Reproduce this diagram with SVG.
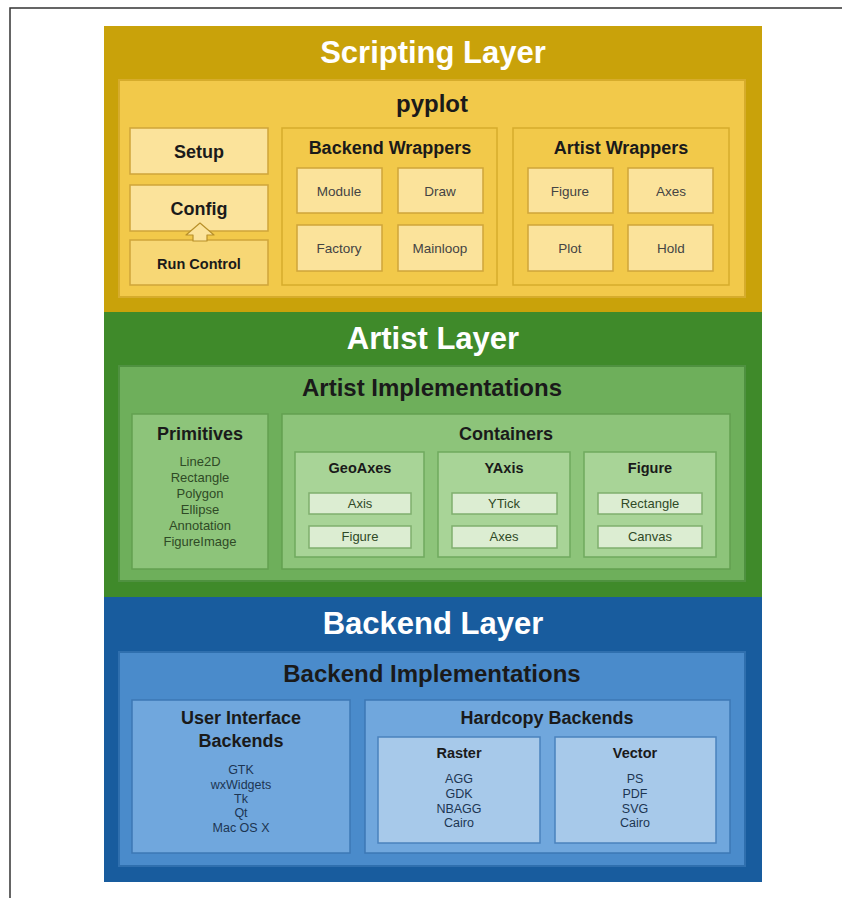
<svg xmlns="http://www.w3.org/2000/svg" width="842" height="898" viewBox="0 0 842 898">
<style>
text{font-family:"Liberation Sans",Arial,sans-serif;text-anchor:middle;}
.lt{font-size:31px;font-weight:bold;fill:#fff;}
.pt{font-size:24px;font-weight:bold;fill:#1a1a1a;}
.st{font-size:18px;font-weight:bold;fill:#1a1a1a;}
.sm{font-size:14.5px;font-weight:bold;fill:#1a1a1a;}
.it{font-size:13.5px;fill:#444;}
.ig{font-size:13px;fill:#2f4a26;}
.ib{font-size:12.5px;fill:#1c3552;}
.y0{fill:#C9A20A;}
.y1{fill:#F2C94A;stroke:#D6AC2C;stroke-width:2;}
.y2{fill:#FBE39B;stroke:#CFA53A;stroke-width:1.5;}
.y3{fill:#F7D775;stroke:#CFA53A;stroke-width:1.5;}
.g0{fill:#3F8A2A;}
.g1{fill:#6EAF5B;stroke:#4F9140;stroke-width:2;}
.g2{fill:#8DC47A;stroke:#63A050;stroke-width:1.5;}
.g3{fill:#A8D497;stroke:#6FA95E;stroke-width:1.5;}
.g4{fill:#DCEDD2;stroke:#7FAE6E;stroke-width:1.5;}
.b0{fill:#185C9E;}
.b1{fill:#4A8BCB;stroke:#2F6FAE;stroke-width:2;}
.b2{fill:#70A7DD;stroke:#3D78B5;stroke-width:1.5;}
.b3{fill:#A7C9EA;stroke:#4A82BD;stroke-width:1.5;}
</style>
<rect x="0" y="0" width="842" height="898" fill="#fff"/>
<path d="M10 898 V8 H842" fill="none" stroke="#333" stroke-width="1.5"/>

<g id="scripting-layer">
<rect class="y0" x="104" y="26" width="658" height="286"/>
<text class="lt" x="433" y="63">Scripting Layer</text>
</g>
<g id="pyplot">
<rect class="y1" x="119" y="80" width="626" height="217"/>
<text class="pt" x="432" y="112">pyplot</text>
</g>
<g id="setup"><rect class="y2" x="130" y="128" width="138" height="46"/><text class="st" x="199" y="158">Setup</text></g>
<g id="config"><rect class="y2" x="130" y="185" width="138" height="46"/><text class="st" x="199" y="215">Config</text></g>
<g id="run-control"><rect class="y3" x="130" y="240" width="138" height="45"/><text class="sm" x="199" y="269">Run Control</text></g>
<g id="backend-wrappers">
<rect class="y1" x="282" y="128" width="215" height="157" style="stroke-width:1.5"/>
<text class="st" x="390" y="154">Backend Wrappers</text>
</g>
<g id="bw-module"><rect class="y2" x="297" y="168" width="85" height="45"/><text class="it" x="339" y="196">Module</text></g>
<g id="bw-draw"><rect class="y2" x="398" y="168" width="85" height="45"/><text class="it" x="440" y="196">Draw</text></g>
<g id="bw-factory"><rect class="y2" x="297" y="225" width="85" height="46"/><text class="it" x="339" y="253">Factory</text></g>
<g id="bw-mainloop"><rect class="y2" x="398" y="225" width="85" height="46"/><text class="it" x="440" y="253">Mainloop</text></g>
<g id="artist-wrappers">
<rect class="y1" x="513" y="128" width="216" height="157" style="stroke-width:1.5"/>
<text class="st" x="621" y="154">Artist Wrappers</text>
</g>
<g id="aw-figure"><rect class="y2" x="528" y="168" width="85" height="45"/><text class="it" x="570" y="196">Figure</text></g>
<g id="aw-axes"><rect class="y2" x="628" y="168" width="85" height="45"/><text class="it" x="671" y="196">Axes</text></g>
<g id="aw-plot"><rect class="y2" x="528" y="225" width="85" height="46"/><text class="it" x="570" y="253">Plot</text></g>
<g id="aw-hold"><rect class="y2" x="628" y="225" width="85" height="46"/><text class="it" x="671" y="253">Hold</text></g>

<g id="artist-layer">
<rect class="g0" x="104" y="312" width="658" height="285"/>
<text class="lt" x="433" y="349">Artist Layer</text>
</g>
<g id="artist-implementations">
<rect class="g1" x="119" y="366" width="626" height="215"/>
<text class="pt" x="432" y="396">Artist Implementations</text>
</g>
<g id="primitives">
<rect class="g2" x="132" y="414" width="136" height="155"/>
<text class="st" x="200" y="440">Primitives</text>
<text class="ig" x="200" y="466">Line2D</text>
<text class="ig" x="200" y="482">Rectangle</text>
<text class="ig" x="200" y="498">Polygon</text>
<text class="ig" x="200" y="514">Ellipse</text>
<text class="ig" x="200" y="530">Annotation</text>
<text class="ig" x="200" y="546">FigureImage</text>
</g>
<g id="containers">
<rect class="g2" x="282" y="414" width="448" height="155"/>
<text class="st" x="506" y="440">Containers</text>
</g>
<g id="geoaxes">
<rect class="g3" x="295" y="452" width="129" height="105"/>
<text class="sm" x="360" y="473">GeoAxes</text>
<rect class="g4" x="309" y="493" width="102" height="21"/><text class="ig" x="360" y="508">Axis</text>
<rect class="g4" x="309" y="526" width="102" height="22"/><text class="ig" x="360" y="541">Figure</text>
</g>
<g id="yaxis">
<rect class="g3" x="438" y="452" width="132" height="105"/>
<text class="sm" x="504" y="473">YAxis</text>
<rect class="g4" x="452" y="493" width="105" height="21"/><text class="ig" x="504" y="508">YTick</text>
<rect class="g4" x="452" y="526" width="105" height="22"/><text class="ig" x="504" y="541">Axes</text>
</g>
<g id="figure-container">
<rect class="g3" x="584" y="452" width="132" height="105"/>
<text class="sm" x="650" y="473">Figure</text>
<rect class="g4" x="598" y="493" width="104" height="21"/><text class="ig" x="650" y="508">Rectangle</text>
<rect class="g4" x="598" y="526" width="104" height="22"/><text class="ig" x="650" y="541">Canvas</text>
</g>

<g id="backend-layer">
<rect class="b0" x="104" y="597" width="658" height="285"/>
<text class="lt" x="433" y="634">Backend Layer</text>
</g>
<g id="backend-implementations">
<rect class="b1" x="119" y="652" width="626" height="214"/>
<text class="pt" x="432" y="682">Backend Implementations</text>
</g>
<g id="ui-backends">
<rect class="b2" x="132" y="700" width="218" height="153"/>
<text class="st" x="241" y="724">User Interface</text>
<text class="st" x="241" y="747">Backends</text>
<text class="ib" x="241" y="774">GTK</text>
<text class="ib" x="241" y="789">wxWidgets</text>
<text class="ib" x="241" y="803">Tk</text>
<text class="ib" x="241" y="817">Qt</text>
<text class="ib" x="241" y="832">Mac OS X</text>
</g>
<g id="hardcopy-backends">
<rect class="b2" x="365" y="700" width="365" height="153"/>
<text class="st" x="547" y="724">Hardcopy Backends</text>
</g>
<g id="raster">
<rect class="b3" x="378" y="737" width="162" height="106"/>
<text class="sm" x="459" y="758">Raster</text>
<text class="ib" x="459" y="783">AGG</text>
<text class="ib" x="459" y="798">GDK</text>
<text class="ib" x="459" y="813">NBAGG</text>
<text class="ib" x="459" y="827">Cairo</text>
</g>
<g id="vector">
<rect class="b3" x="555" y="737" width="161" height="106"/>
<text class="sm" x="635" y="758">Vector</text>
<text class="ib" x="635" y="783">PS</text>
<text class="ib" x="635" y="798">PDF</text>
<text class="ib" x="635" y="813">SVG</text>
<text class="ib" x="635" y="827">Cairo</text>
</g>

<g id="connectors">
<path d="M200 223 L214 235 L207 235 L207 241 L193 241 L193 235 L186 235 Z" fill="#FBE39B" stroke="#B8902A" stroke-width="1.2" stroke-linejoin="round"/>
</g>
</svg>
